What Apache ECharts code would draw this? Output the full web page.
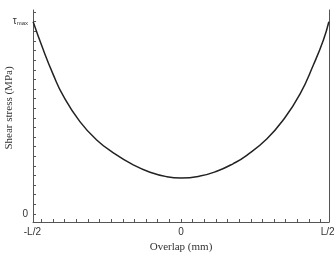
<!DOCTYPE html>
<html>
<head>
<meta charset="utf-8">
<script src="https://cdn.jsdelivr.net/npm/echarts@6/dist/echarts.min.js"></script>
<style>
  html, body { margin: 0; padding: 0; background: #fff; }
  #chart { width: 334px; height: 257px; }
</style>
</head>
<body>
<div id="chart"></div>
<script>
// overlap position in units of L/2, stress in units of tau_max
const overlap = [-1.059, -0.987, -0.915, -0.844, -0.724, -0.604, -0.473, -0.342, -0.222, -0.103, 0,
  0.136, 0.256, 0.375, 0.471, 0.614, 0.733, 0.853, 0.948, 1.02, 1.059];
const stress = [1.0, 0.855, 0.725, 0.615, 0.48, 0.385, 0.312, 0.255, 0.217, 0.194, 0.187,
  0.197, 0.222, 0.262, 0.305, 0.39, 0.49, 0.625, 0.775, 0.905, 1.0];

const xLabelValues = [-1, 0, 1];
const xLabels = ['-L/2', '0', 'L/2'];
const yLabelValues = [0, 1];

let xTicks = [];
for (let i = -12; i <= 12; i++) xTicks.push(i / 12);
let yTicks = [];
for (let i = 0; i <= 21; i++) yTicks.push(i * 0.05);

const axisColor = '#555';
const chart = echarts.init(document.getElementById('chart'));

let option = {
  animation: false,
  grid: { left: 33, right: 5, top: 10, bottom: 35, outerBoundsMode: 'none' },
  xAxis: {
    type: 'value',
    min: -1.06,
    max: 1.06,
    name: 'Overlap (mm)',
    nameLocation: 'middle',
    nameGap: 20,
    nameMoveOverlap: false,
    nameTextStyle: { fontFamily: 'Liberation Serif', fontSize: 11, color: '#333' },
    axisLine: { onZero: false, lineStyle: { color: axisColor, width: 1 } },
    axisTick: { inside: true, length: 3, customValues: xTicks, lineStyle: { color: axisColor } },
    splitLine: { show: false },
    axisLabel: {
      customValues: xLabelValues,
      margin: 5,
      fontFamily: 'Liberation Sans',
      fontSize: 10,
      color: '#333',
      formatter: function (v) {
        let i = xLabelValues.indexOf(v);
        if (i === 0) return '{l|' + xLabels[i] + '}';
        if (i === 2) return '{r|' + xLabels[i] + '}';
        return xLabels[i];
      },
      rich: {
        l: { fontFamily: 'Liberation Sans', fontSize: 10, color: '#333', padding: [0, 18, 0, 0] },
        r: { fontFamily: 'Liberation Sans', fontSize: 10, color: '#333', padding: [0, 0, 0, 14] }
      }
    }
  },
  yAxis: [{
    type: 'value',
    min: -0.042,
    max: 1.061,
    name: 'Shear stress (MPa)',
    nameLocation: 'middle',
    nameGap: 18,
    nameMoveOverlap: false,
    nameTextStyle: { fontFamily: 'Liberation Serif', fontSize: 11, color: '#333', padding: [0, 0, 0, 16] },
    axisLine: { show: true, onZero: false, lineStyle: { color: axisColor, width: 1 } },
    axisTick: { show: true, inside: true, length: 3, customValues: yTicks, lineStyle: { color: axisColor } },
    splitLine: { show: false },
    axisLabel: {
      customValues: yLabelValues,
      margin: 5,
      fontFamily: 'Liberation Sans',
      fontSize: 10,
      color: '#333',
      formatter: function (v) {
        return v === 1 ? '{t|τ}{s|max}' : '0';
      },
      rich: {
        t: { fontFamily: 'Liberation Sans', fontSize: 10, color: '#333' },
        s: { fontFamily: 'Liberation Sans', fontSize: 6, color: '#333', verticalAlign: 'bottom', padding: [4, 0, 0, 0] }
      }
    }
  }, {
    type: 'value',
    position: 'right',
    min: -0.042,
    max: 1.061,
    axisLine: { show: true, onZero: false, lineStyle: { color: axisColor, width: 1 } },
    axisTick: { show: false },
    axisLabel: { show: false },
    splitLine: { show: false }
  }],
  series: [{
    type: 'line',
    data: overlap.map((x, i) => [x, stress[i]]),
    smooth: 0.5,
    showSymbol: false,
    lineStyle: { color: '#222', width: 1.5 }
  }]
};

chart.setOption(option);
</script>
</body>
</html>
